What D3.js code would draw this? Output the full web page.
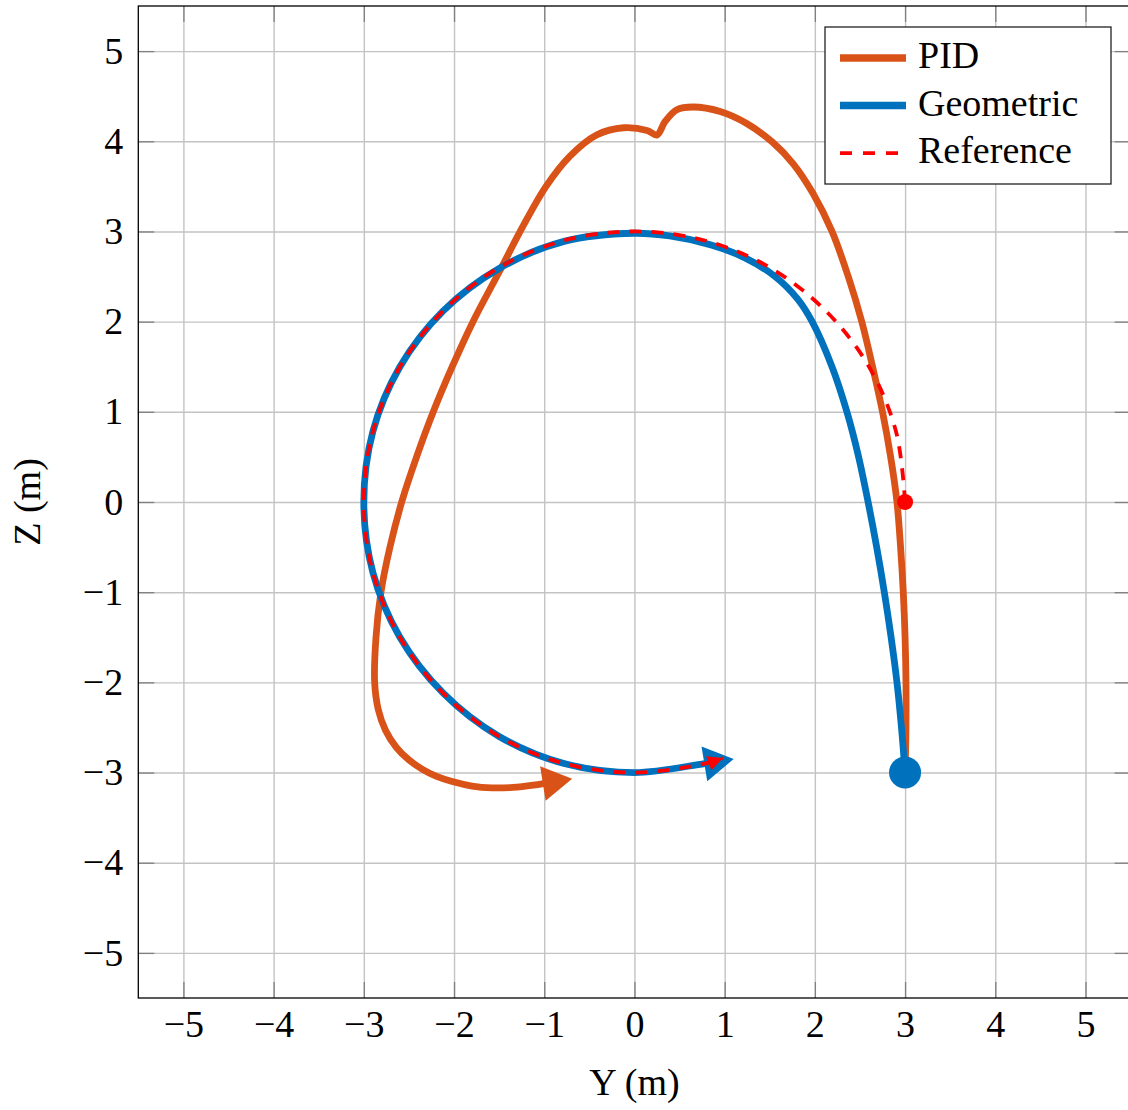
<!DOCTYPE html>
<html>
<head>
<meta charset="utf-8">
<script src="https://cdn.jsdelivr.net/npm/d3@7"></script>
<style>
  html, body { margin: 0; padding: 0; background: #fff; }
  svg { display: block; font-family: "Liberation Serif", "Times New Roman", serif; }
</style>
</head>
<body>
<svg id="chart" width="1128" height="1110"></svg>
<script>
// Tick values for both axes (metres)
const yTicks = [-5, -4, -3, -2, -1, 0, 1, 2, 3, 4, 5];
const zTicks = [-5, -4, -3, -2, -1, 0, 1, 2, 3, 4, 5];

// Series names, in legend order
const seriesNames = ["PID", "Geometric", "Reference"];

// PID trajectory, [Y, Z] in metres; last point is the arrow tip
const pidPath = [
  [3.00, -3.00], [3.01, -2.50], [3.01, -2.00], [3.00, -1.50], [2.98, -1.00],
  [2.95, -0.50], [2.91, 0.00], [2.84, 0.50], [2.75, 1.00], [2.64, 1.50],
  [2.52, 2.00], [2.37, 2.50], [2.19, 3.00], [1.98, 3.42], [1.76, 3.75],
  [1.53, 3.99], [1.24, 4.20], [0.95, 4.33], [0.65, 4.38], [0.47, 4.35],
  [0.34, 4.22], [0.25, 4.07], [0.14, 4.12], [-0.12, 4.15], [-0.42, 4.07],
  [-0.72, 3.83], [-0.98, 3.50], [-1.24, 3.05], [-1.50, 2.55], [-1.79, 2.00],
  [-2.02, 1.50], [-2.23, 1.00], [-2.415, 0.50], [-2.58, 0.00], [-2.71, -0.50],
  [-2.81, -1.00], [-2.865, -1.50], [-2.88, -2.00], [-2.84, -2.30], [-2.76, -2.53],
  [-2.64, -2.72], [-2.50, -2.86], [-2.35, -2.965], [-2.20, -3.04], [-2.02, -3.10],
  [-1.80, -3.15], [-1.58, -3.17], [-1.35, -3.165], [-1.12, -3.14], [-0.94, -3.11],
  [-0.69, -3.07]
];

// Geometric controller trajectory, [Y, Z] in metres
const geometricPath = [
  [3.00, -3.00], [2.96, -2.50], [2.91, -2.00], [2.845, -1.50], [2.77, -1.00],
  [2.685, -0.50], [2.59, 0.00], [2.485, 0.50], [2.355, 1.00], [2.19, 1.50],
  [1.97, 2.00], [1.81, 2.25], [1.56, 2.50], [1.22, 2.71], [0.85, 2.85],
  [0.39, 2.95], [0.00, 2.98], [-0.78, 2.89], [-1.50, 2.59], [-2.12, 2.12],
  [-2.60, 1.50], [-2.90, 0.78], [-3.00, 0.00], [-2.90, -0.78], [-2.60, -1.50],
  [-2.12, -2.12], [-1.50, -2.60], [-0.78, -2.90], [0.00, -3.00], [0.78, -2.90],
  [1.10, -2.85]
];

// Reference path (circle of radius 3 m), [Y, Z] in metres
const referencePath = [
  [3.00, 0.00], [2.90, 0.78], [2.60, 1.50], [2.12, 2.12], [1.50, 2.60],
  [0.78, 2.90], [0.00, 3.00], [-0.78, 2.90], [-1.50, 2.60], [-2.12, 2.12],
  [-2.60, 1.50], [-2.90, 0.78], [-3.00, 0.00], [-2.90, -0.78], [-2.60, -1.50],
  [-2.12, -2.12], [-1.50, -2.60], [-0.78, -2.90], [0.00, -3.00], [0.78, -2.90],
  [0.98, -2.84]
];

// Start markers
const geometricStart = [3.00, -3.00];
const referenceStart = [3.00, 0.00];

const colors = { PID: "#D95319", Geometric: "#0072BD", Reference: "#FF0000" };
const fontSize = "38px";

const svg = d3.select("#chart");
const plotLeft = 138.3, plotRight = 1130.6, plotTop = 6, plotBottom = 998;
const W = plotRight - plotLeft, H = plotBottom - plotTop;

const x = d3.scaleLinear().domain([-5.5, 5.5]).range([plotLeft, plotRight]);
const y = d3.scaleLinear().domain([-5.5, 5.5]).range([plotBottom, plotTop]);

// Grid
const gridColor = "#c3c3c3";
svg.append("g")
  .attr("transform", `translate(0,${plotBottom})`)
  .call(d3.axisBottom(x).tickValues(yTicks).tickSize(-H).tickFormat(""))
  .call(g => g.select(".domain").remove())
  .call(g => g.selectAll("line").attr("stroke", gridColor).attr("stroke-width", 1.4));
svg.append("g")
  .attr("transform", `translate(${plotLeft},0)`)
  .call(d3.axisLeft(y).tickValues(zTicks).tickSize(-W).tickFormat(""))
  .call(g => g.select(".domain").remove())
  .call(g => g.selectAll("line").attr("stroke", gridColor).attr("stroke-width", 1.4));

// Inner tick marks on all four sides, with labels on bottom and left
const tickLen = 16;
const styleAxis = g => {
  g.select(".domain").remove();
  g.selectAll("line").attr("stroke", "#808080").attr("stroke-width", 1.3);
  g.selectAll("text").attr("fill", "#000").style("font-size", fontSize)
    .style("font-family", "'Liberation Serif', 'Times New Roman', serif");
};
svg.append("g")
  .attr("transform", `translate(0,${plotBottom})`)
  .call(d3.axisBottom(x).tickValues(yTicks).tickSize(-tickLen).tickPadding(12))
  .call(styleAxis);
svg.append("g")
  .attr("transform", `translate(0,${plotTop})`)
  .call(d3.axisTop(x).tickValues(yTicks).tickSize(-tickLen).tickFormat(""))
  .call(styleAxis);
svg.append("g")
  .attr("transform", `translate(${plotLeft},0)`)
  .call(d3.axisLeft(y).tickValues(zTicks).tickSize(-tickLen).tickPadding(15))
  .call(styleAxis);
svg.append("g")
  .attr("transform", `translate(${plotRight},0)`)
  .call(d3.axisRight(y).tickValues(zTicks).tickSize(-tickLen).tickFormat(""))
  .call(styleAxis);

// Axis frame
svg.append("rect")
  .attr("x", plotLeft).attr("y", plotTop).attr("width", W).attr("height", H)
  .attr("fill", "none").attr("stroke", "#000").attr("stroke-width", 1.3);

// Axis titles
svg.append("text")
  .attr("x", x(0)).attr("y", 1095)
  .attr("text-anchor", "middle").style("font-size", fontSize)
  .text("Y (m)");
svg.append("text")
  .attr("transform", `translate(40,${y(0)}) rotate(-90)`)
  .attr("text-anchor", "middle").style("font-size", fontSize)
  .text("Z (m)");

// Arrow heads
const defs = svg.append("defs");
function arrowMarker(id, color, len, half) {
  defs.append("marker")
    .attr("id", id)
    .attr("markerUnits", "userSpaceOnUse")
    .attr("markerWidth", len + 2).attr("markerHeight", 2 * half + 2)
    .attr("viewBox", `0 0 ${len} ${2 * half}`)
    .attr("refX", len).attr("refY", half)
    .attr("orient", "auto")
    .style("overflow", "visible")
    .append("path")
    .attr("d", `M0,0 L${len},${half} L0,${2 * half} Z`)
    .attr("fill", color);
}
arrowMarker("arrow-pid", colors.PID, 28, 16.5);
arrowMarker("arrow-geo", colors.Geometric, 28, 16.5);
arrowMarker("arrow-ref", colors.Reference, 13, 6.5);

const line = d3.line()
  .x(d => x(d[0])).y(d => y(d[1]))
  .curve(d3.curveCatmullRom.alpha(0.5));

function drawTrajectory(data, color, width, marker, trim) {
  const p = svg.append("path")
    .datum(data)
    .attr("d", line)
    .attr("fill", "none")
    .attr("stroke", color)
    .attr("stroke-width", width)
    .attr("stroke-linejoin", "round")
    .attr("marker-end", `url(#${marker})`);
  if (trim) {
    const L = p.node().getTotalLength();
    p.attr("stroke-dasharray", `${L - trim} ${L}`);
  }
  return p;
}

drawTrajectory(pidPath, colors.PID, 6.8, "arrow-pid", 12);
drawTrajectory(geometricPath, colors.Geometric, 6.8, "arrow-geo", 12);
drawTrajectory(referencePath, colors.Reference, 3.8, "arrow-ref", 0)
  .attr("stroke-dasharray", "12 10");

// Start points
svg.append("circle")
  .attr("cx", x(geometricStart[0])).attr("cy", y(geometricStart[1]))
  .attr("r", 16).attr("fill", colors.Geometric);
svg.append("circle")
  .attr("cx", x(referenceStart[0])).attr("cy", y(referenceStart[1]))
  .attr("r", 8).attr("fill", colors.Reference);

// Legend
const legend = svg.append("g");
legend.append("rect")
  .attr("x", 825).attr("y", 27).attr("width", 286).attr("height", 157)
  .attr("fill", "#fff").attr("stroke", "#222").attr("stroke-width", 1.3);
seriesNames.forEach((name, i) => {
  const cy = 58 + i * 47.6;
  const l = legend.append("line")
    .attr("x1", 840).attr("x2", 906).attr("y1", cy).attr("y2", cy)
    .attr("stroke", colors[name]);
  if (name === "Reference") l.attr("stroke-width", 3.8).attr("stroke-dasharray", "12 11");
  else l.attr("stroke-width", 7.5);
  legend.append("text")
    .attr("x", 918).attr("y", cy + 10)
    .style("font-size", fontSize)
    .text(name);
});
</script>
</body>
</html>
